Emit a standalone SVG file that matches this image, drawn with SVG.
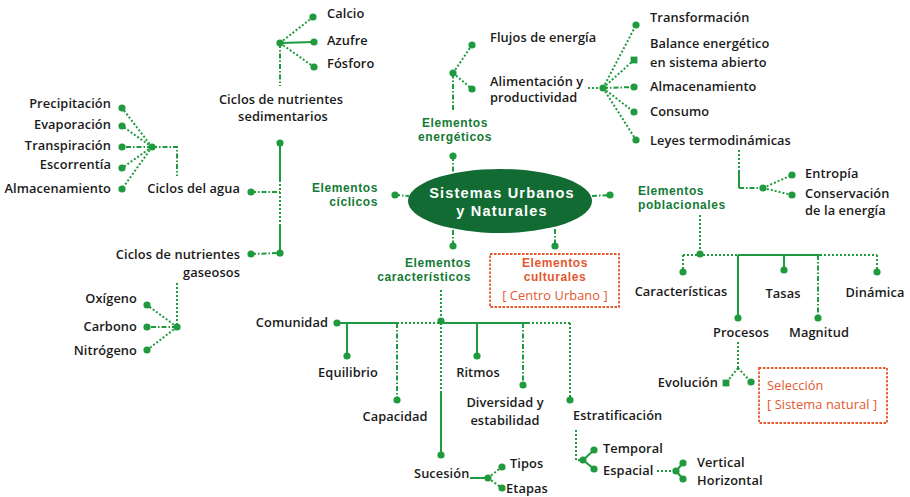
<svg xmlns="http://www.w3.org/2000/svg" width="910" height="497" viewBox="0 0 910 497">
<style>
text{font-family:"Open Sans","Liberation Sans",sans-serif;font-size:12.8px;font-weight:600;fill:#1a1a1a;letter-spacing:0.1px}
.g{font-family:"Liberation Sans","Open Sans",sans-serif;fill:#157a35;font-weight:700;font-size:12px;letter-spacing:0.6px}
.r{font-family:"Liberation Sans","Open Sans",sans-serif;fill:#e4572e;font-weight:700;font-size:12px;letter-spacing:0.6px}
.rn{fill:#e4572e;font-weight:400}
.w{font-family:"Liberation Sans","Open Sans",sans-serif;fill:#ffffff;font-weight:700;font-size:14.5px;letter-spacing:1.2px}
.e{text-anchor:end}
.m{text-anchor:middle}
line,path.l{stroke:#1f9a3f;stroke-width:2;fill:none}
.d{stroke-dasharray:2 2}
.dd{stroke-dasharray:5 2 1.5 2}
.dot{fill:#1f9a3f}
.box{fill:none;stroke:#e4572e;stroke-width:1.8}
</style>
<defs>
<circle id="p" r="3.6" class="dot"/>
<rect id="q" x="-3.4" y="-3.4" width="6.8" height="6.8" class="dot"/>
</defs>

<g id="connectors">
<line class="d" x1="280" y1="43" x2="313" y2="17"/>
<line x1="280" y1="43" x2="314" y2="42"/>
<line class="d" x1="280" y1="43" x2="314" y2="67"/>
<line class="dd" x1="280" y1="43" x2="280" y2="86"/>
<line x1="280" y1="143" x2="280" y2="180"/>
<line class="d" x1="280" y1="180" x2="280" y2="226"/>
<line x1="280" y1="226" x2="280" y2="253"/>
<line class="dd" x1="251" y1="192" x2="280" y2="192"/>
<line class="dd" x1="251" y1="254" x2="280" y2="253"/>
<line class="d" x1="152" y1="147" x2="122" y2="108"/>
<line class="d" x1="152" y1="147" x2="122" y2="126"/>
<line class="dd" x1="152" y1="147" x2="122" y2="147"/>
<line class="d" x1="152" y1="147" x2="122" y2="168"/>
<line class="d" x1="152" y1="147" x2="122" y2="189"/>
<path class="l dd" d="M152 147 H177 V176"/>
<line class="d" x1="177" y1="283" x2="177" y2="327"/>
<line class="d" x1="177" y1="327" x2="147" y2="305"/>
<line class="dd" x1="177" y1="327" x2="147" y2="327"/>
<line class="d" x1="177" y1="327" x2="147" y2="350"/>
<line class="dd" x1="395" y1="195" x2="409" y2="196"/>
<line class="dd" x1="453" y1="156" x2="453" y2="172"/>
<line class="dd" x1="453" y1="110" x2="453" y2="73"/>
<line class="d" x1="453" y1="73" x2="472" y2="45"/>
<line class="d" x1="453" y1="73" x2="472" y2="89"/>
<line class="d" x1="588" y1="88" x2="603" y2="88"/>
<line class="d" x1="603" y1="88" x2="636" y2="25"/>
<line class="d" x1="603" y1="88" x2="634" y2="60"/>
<line class="dd" x1="603" y1="88" x2="634" y2="87"/>
<line class="d" x1="603" y1="88" x2="634" y2="112"/>
<line class="d" x1="603" y1="88" x2="636" y2="140"/>
<line class="d" x1="739" y1="150" x2="739" y2="170"/>
<line x1="739" y1="170" x2="739" y2="188"/>
<line class="dd" x1="739" y1="188" x2="763" y2="188"/>
<line class="d" x1="763" y1="188" x2="792" y2="175"/>
<line class="d" x1="763" y1="188" x2="792" y2="195"/>
<line class="dd" x1="592" y1="196" x2="610" y2="195"/>
<line class="d" x1="700" y1="215" x2="700" y2="254"/>
<line class="d" x1="683" y1="255" x2="738" y2="255"/>
<line x1="738" y1="255" x2="820" y2="255"/>
<line class="d" x1="820" y1="255" x2="877" y2="255"/>
<line class="d" x1="683" y1="255" x2="683" y2="272"/>
<line x1="738" y1="255" x2="738" y2="318"/>
<line x1="784" y1="255" x2="784" y2="270"/>
<line class="dd" x1="818" y1="255" x2="818" y2="318"/>
<line class="d" x1="877" y1="255" x2="877" y2="272"/>
<line class="d" x1="738" y1="342" x2="738" y2="368"/>
<line class="d" x1="738" y1="368" x2="726" y2="383"/>
<line class="d" x1="738" y1="368" x2="751" y2="382"/>
<line class="dd" x1="453" y1="230" x2="453" y2="246"/>
<line class="dd" x1="555" y1="229" x2="555" y2="246"/>
<line class="d" x1="441" y1="290" x2="441" y2="322"/>
<line x1="337" y1="323" x2="397" y2="323"/>
<line class="d" x1="397" y1="323" x2="441" y2="323"/>
<line x1="441" y1="323" x2="528" y2="323"/>
<line class="d" x1="528" y1="323" x2="570" y2="323"/>
<line x1="347" y1="323" x2="347" y2="356"/>
<line class="dd" x1="397" y1="323" x2="397" y2="400"/>
<line class="d" x1="441" y1="323" x2="441" y2="392"/>
<line x1="441" y1="392" x2="441" y2="455"/>
<line x1="477" y1="323" x2="477" y2="356"/>
<line class="dd" x1="523" y1="323" x2="523" y2="385"/>
<line class="d" x1="570" y1="323" x2="570" y2="400"/>
<line x1="470" y1="478" x2="488" y2="478"/>
<line class="d" x1="488" y1="478" x2="502" y2="467"/>
<line class="d" x1="488" y1="478" x2="502" y2="488"/>
<path class="l d" d="M576 430 V460 H583"/>
<line x1="583" y1="460" x2="594" y2="450"/>
<line x1="583" y1="460" x2="594" y2="469"/>
<line class="d" x1="657" y1="471" x2="676" y2="471"/>
<line x1="676" y1="471" x2="683" y2="463"/>
<line x1="676" y1="471" x2="683" y2="479"/>
</g>

<g id="dots">
<use href="#p" x="280" y="43"/><use href="#p" x="313" y="17"/><use href="#p" x="314" y="42"/><use href="#p" x="314" y="67"/>
<use href="#p" x="280" y="143"/><use href="#p" x="280" y="253"/><use href="#p" x="251" y="192"/><use href="#p" x="251" y="254"/>
<use href="#p" x="152" y="147"/><use href="#p" x="122" y="108"/><use href="#p" x="122" y="126"/><use href="#p" x="122" y="147"/><use href="#p" x="122" y="168"/><use href="#p" x="122" y="189"/>
<use href="#p" x="177" y="327"/><use href="#p" x="147" y="305"/><use href="#p" x="147" y="327"/><use href="#p" x="147" y="350"/>
<use href="#p" x="395" y="195"/><use href="#p" x="453" y="156"/><use href="#p" x="453" y="73"/><use href="#p" x="472" y="45"/><use href="#p" x="472" y="89"/>
<use href="#p" x="603" y="88"/><use href="#p" x="636" y="25"/><use href="#q" x="634" y="60"/><use href="#p" x="634" y="87"/><use href="#p" x="634" y="112"/><use href="#p" x="636" y="140"/>
<use href="#p" x="763" y="188"/><use href="#p" x="792" y="175"/><use href="#p" x="792" y="195"/>
<use href="#p" x="610" y="195"/><use href="#p" x="700" y="254"/>
<use href="#p" x="683" y="272"/><use href="#p" x="738" y="318"/><use href="#p" x="784" y="270"/><use href="#p" x="818" y="318"/><use href="#p" x="877" y="272"/>
<use href="#q" x="726" y="383"/><use href="#p" x="751" y="382"/>
<use href="#p" x="453" y="246"/><use href="#p" x="555" y="246"/>
<use href="#p" x="441" y="321"/><use href="#p" x="337" y="323"/><use href="#p" x="347" y="356"/><use href="#p" x="397" y="400"/><use href="#p" x="441" y="455"/><use href="#p" x="477" y="356"/><use href="#p" x="523" y="385"/><use href="#p" x="570" y="400"/>
<use href="#p" x="488" y="478"/><use href="#p" x="502" y="467"/><use href="#p" x="502" y="488"/>
<use href="#p" x="583" y="460"/><use href="#p" x="594" y="450"/><use href="#p" x="594" y="469"/>
<use href="#p" x="676" y="471"/><use href="#p" x="683" y="463"/><use href="#p" x="683" y="479"/>
</g>

<g id="center">
<ellipse cx="500" cy="201" rx="92" ry="32" fill="#136b34"/>
<text class="w m" x="502" y="198">Sistemas Urbanos</text>
<text class="w m" x="502" y="216">y Naturales</text>
</g>

<g id="sedimentarios">
<text x="327" y="17.5">Calcio</text>
<text x="327" y="44.5">Azufre</text>
<text x="327" y="67.5">Fósforo</text>
<text class="m" x="281" y="104">Ciclos de nutrientes</text>
<text class="m" x="283" y="121">sedimentarios</text>
</g>

<g id="agua">
<text class="e" x="111" y="107.5">Precipitación</text>
<text class="e" x="111" y="128.5">Evaporación</text>
<text class="e" x="111" y="150">Transpiración</text>
<text class="e" x="111" y="169">Escorrentía</text>
<text class="e" x="111" y="192.5">Almacenamiento</text>
<text class="e" x="240" y="192.5">Ciclos del agua</text>
</g>

<g id="gaseosos">
<text class="e" x="240" y="258.5">Ciclos de nutrientes</text>
<text class="e" x="240" y="276.5">gaseosos</text>
<text class="e" x="137" y="302.5">Oxígeno</text>
<text class="e" x="137" y="331">Carbono</text>
<text class="e" x="137" y="354.5">Nitrógeno</text>
</g>

<g id="ciclicos">
<text class="g e" x="378" y="191.5">Elementos</text>
<text class="g e" x="378" y="205.5">cíclicos</text>
</g>

<g id="energeticos">
<text class="g m" x="455" y="126.5">Elementos</text>
<text class="g m" x="455" y="140.5">energéticos</text>
<text x="490" y="41.5">Flujos de energía</text>
<text x="490" y="85.5">Alimentación y</text>
<text x="490" y="102">productividad</text>
<text x="650" y="21.5">Transformación</text>
<text x="650" y="47.5">Balance energético</text>
<text x="650" y="66.5">en sistema abierto</text>
<text x="650" y="90.5">Almacenamiento</text>
<text x="650" y="115.5">Consumo</text>
<text x="650" y="144.5">Leyes termodinámicas</text>
<text x="805" y="177.5">Entropía</text>
<text x="805" y="198">Conservación</text>
<text x="805" y="214.5">de la energía</text>
</g>

<g id="poblacionales">
<text class="g" x="638" y="194.5">Elementos</text>
<text class="g" x="638" y="208.5">poblacionales</text>
<text class="m" x="681" y="295.5">Características</text>
<text class="m" x="783" y="297.5">Tasas</text>
<text class="m" x="875" y="296.5">Dinámica</text>
<text class="m" x="741" y="336.5">Procesos</text>
<text class="m" x="819" y="336.5">Magnitud</text>
<text class="e" x="718" y="386.5">Evolución</text>
</g>

<g id="seleccion">
<rect class="box" x="759" y="368" width="128" height="55" stroke-dasharray="2.5 1.5"/>
<text class="rn" x="767" y="389.5">Selección</text>
<text class="rn" x="767" y="408.5">[ Sistema natural ]</text>
</g>

<g id="culturales">
<rect class="box" x="490" y="254" width="129" height="53" stroke-dasharray="2.5 1.5"/>
<text class="r m" x="555" y="267">Elementos</text>
<text class="r m" x="555" y="281">culturales</text>
<text class="rn m" x="555" y="299.5">[ Centro Urbano ]</text>
</g>

<g id="caracteristicos">
<text class="g e" x="471" y="266.5">Elementos</text>
<text class="g e" x="471" y="280.5">característicos</text>
<text class="e" x="328" y="326.5">Comunidad</text>
<text class="m" x="348" y="376.5">Equilibrio</text>
<text class="m" x="395" y="420.5">Capacidad</text>
<text class="m" x="478" y="376.5">Ritmos</text>
<text class="m" x="505" y="407">Diversidad y</text>
<text class="m" x="505" y="424.5">estabilidad</text>
<text x="573" y="419.5">Estratificación</text>
<text x="414" y="477.5">Sucesión</text>
<text x="510" y="467.5">Tipos</text>
<text x="506" y="492.5">Etapas</text>
<text x="603" y="452.5">Temporal</text>
<text x="603" y="474.5">Espacial</text>
<text x="697" y="466.5">Vertical</text>
<text x="697" y="484.5">Horizontal</text>
</g>
</svg>
